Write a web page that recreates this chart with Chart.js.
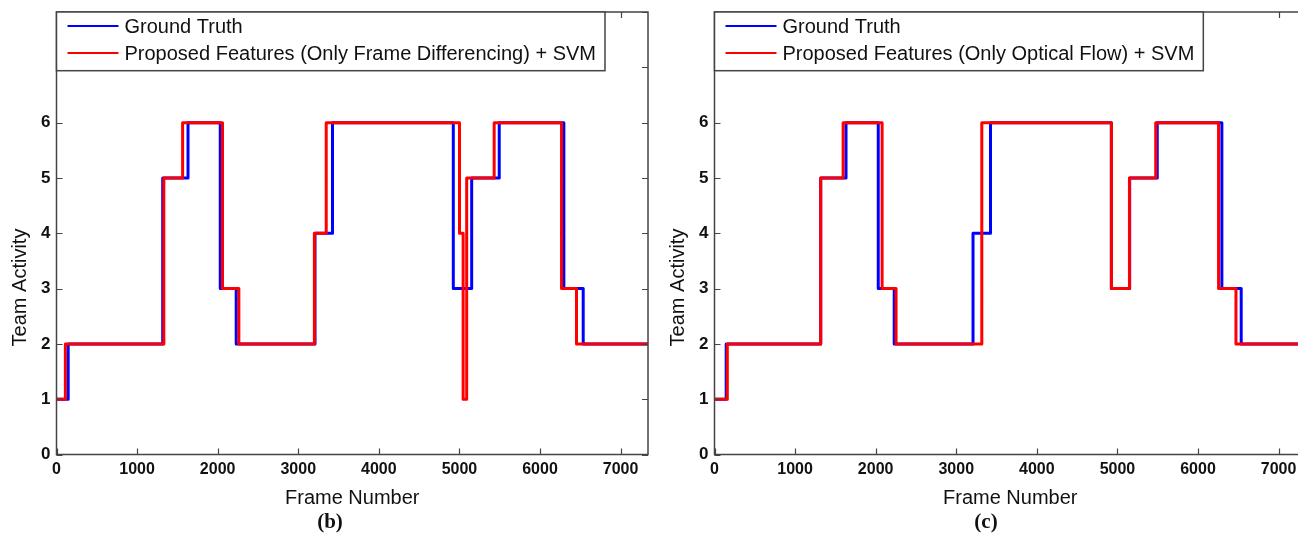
<!DOCTYPE html>
<html><head><meta charset="utf-8">
<script src="https://cdn.jsdelivr.net/npm/chart.js@4/dist/chart.umd.min.js"></script>
<style>
html,body{margin:0;padding:0;background:#fff;overflow:hidden;width:1298px;height:541px;}
#wrap{position:relative;width:1298px;height:541px;overflow:hidden;background:#fff;}
.c{position:absolute;top:0;}
.cap{position:absolute;font-family:"Liberation Serif","Times New Roman",serif;font-weight:bold;font-size:21px;color:#111;transform:translateX(-50%);top:509px;line-height:24px;}
</style></head><body>
<div id="wrap">
<canvas id="chartB" class="c" width="660" height="541" style="left:0"></canvas>
<canvas id="chartC" class="c" width="660" height="541" style="left:658px"></canvas>
<div class="cap" style="left:330px">(b)</div>
<div class="cap" style="left:986px">(c)</div>
</div>
<script>
// ---- data ----
const xTickValues = [0, 1000, 2000, 3000, 4000, 5000, 6000, 7000];
const xTickLabels = ['0', '1000', '2000', '3000', '4000', '5000', '6000', '7000'];
const yTickValues = [0, 1, 2, 3, 4, 5, 6, 7, 8];
const yTickLabels = ['0', '1', '2', '3', '4', '5', '6', '', ''];
const xMax = 7340;

const gtFrames = [0, 145, 1318, 1632, 2032, 2230, 3208, 3425, 4924, 5152, 5494, 6296, 6536, 7340];
const gtValues = [1, 2, 5, 6, 3, 2, 4, 6, 3, 5, 6, 3, 2, 2];

const fdFrames = [0, 110, 1332, 1565, 2060, 2263, 3200, 3347, 5001, 5046, 5090, 5431, 6267, 6453, 7340];
const fdValues = [1, 2, 5, 6, 3, 2, 4, 6, 4, 1, 5, 6, 3, 2, 2];

const ofFrames = [0, 159, 1318, 1596, 2080, 2253, 3317, 4926, 5149, 5475, 6255, 6471, 7340];
const ofValues = [1, 2, 5, 6, 3, 2, 6, 3, 5, 6, 3, 2, 2];

const gtLabel = 'Ground Truth';
const fdLabel = 'Proposed Features (Only Frame Differencing) + SVM';
const ofLabel = 'Proposed Features (Only Optical Flow) + SVM';
const yTitle = 'Team Activity';
const xTitle = 'Frame Number';

// ---- styling ----
const SANS = '"Liberation Sans", Arial, Helvetica, sans-serif';
const axisColor = '#444';
const textColor = '#111';

const matlabPlugin = {
  id: 'matlabAxes',
  afterDatasetsDraw(chart) {
    const {ctx, chartArea: ca, scales: {x, y}} = chart;
    ctx.save();
    ctx.strokeStyle = axisColor;
    ctx.lineWidth = 1.5;
    ctx.strokeRect(ca.left, ca.top, ca.right - ca.left, ca.bottom - ca.top);
    const tl = 6;
    ctx.beginPath();
    xTickValues.forEach(v => {
      const px = Math.round(x.getPixelForValue(v)) + 0.5;
      ctx.moveTo(px, ca.bottom); ctx.lineTo(px, ca.bottom - tl);
      ctx.moveTo(px, ca.top); ctx.lineTo(px, ca.top + tl);
    });
    yTickValues.forEach(v => {
      const py = Math.round(y.getPixelForValue(v)) + 0.5;
      ctx.moveTo(ca.left, py); ctx.lineTo(ca.left + tl, py);
      ctx.moveTo(ca.right, py); ctx.lineTo(ca.right - tl, py);
    });
    ctx.lineWidth = 1.2;
    ctx.stroke();

    // legend box (inside axes, top-left)
    const ds = chart.data.datasets;
    ctx.font = '20px ' + SANS;
    let maxW = 0;
    ds.forEach(d => { maxW = Math.max(maxW, ctx.measureText(d.label).width); });
    const bx = ca.left, by = ca.top, bw = 68 + maxW + 9, bh = 58.7;
    ctx.fillStyle = '#fff';
    ctx.fillRect(bx, by, bw, bh);
    ctx.lineWidth = 1.5;
    ctx.strokeStyle = axisColor;
    ctx.strokeRect(bx, by, bw, bh);
    const rows = [14, 41];
    ds.forEach((d, i) => {
      const ry = by + rows[i];
      ctx.beginPath();
      ctx.strokeStyle = d.borderColor;
      ctx.lineWidth = 2;
      ctx.moveTo(bx + 11, ry); ctx.lineTo(bx + 62, ry);
      ctx.stroke();
      ctx.fillStyle = textColor;
      ctx.textBaseline = 'middle';
      ctx.textAlign = 'left';
      ctx.fillText(d.label, bx + 68, ry + 1);
    });

    // y-axis title (rotated)
    ctx.save();
    ctx.translate(20, 287.5);
    ctx.rotate(-Math.PI / 2);
    ctx.font = '20px ' + SANS;
    ctx.fillStyle = textColor;
    ctx.textAlign = 'center';
    ctx.textBaseline = 'middle';
    ctx.fillText(yTitle, 0, 0);
    ctx.restore();
    ctx.restore();
  }
};

function toPoints(frames, values) {
  return frames.map((f, i) => ({x: f, y: values[i]}));
}

function makeChart(id, predFrames, predValues, predLabel) {
  return new Chart(document.getElementById(id), {
    type: 'line',
    data: {
      datasets: [
        {label: gtLabel, data: toPoints(gtFrames, gtValues), borderColor: '#0000ff', backgroundColor: '#0000ff',
         borderWidth: 3, stepped: true, pointRadius: 0, fill: false, order: 2, borderJoinStyle: 'round'},
        {label: predLabel, data: toPoints(predFrames, predValues), borderColor: '#ff0000', backgroundColor: '#ff0000',
         borderWidth: 3, stepped: true, pointRadius: 0, fill: false, order: 1, borderJoinStyle: 'round'}
      ]
    },
    options: {
      responsive: false,
      animation: false,
      devicePixelRatio: 1,
      layout: {padding: {left: 0, top: 12, right: 12, bottom: 0}},
      plugins: {legend: {display: false}, tooltip: {enabled: false}},
      scales: {
        x: {
          type: 'linear', min: 0, max: xMax,
          afterBuildTicks: s => { s.ticks = xTickValues.map(v => ({value: v})); },
          afterFit: s => { s.height = 86.5; s.paddingLeft = 0; s.paddingRight = 0; },
          grid: {display: false, drawTicks: false},
          border: {display: false},
          ticks: {
            padding: 5, color: textColor, maxRotation: 0, autoSkip: false,
            font: {family: SANS, weight: 'bold', size: 16},
            callback: (v, i) => xTickLabels[i]
          },
          title: {display: true, text: xTitle, color: textColor,
                  font: {family: SANS, size: 20}, padding: {top: 0, bottom: 31}}
        },
        y: {
          type: 'linear', min: 0, max: 8,
          afterBuildTicks: s => { s.ticks = yTickValues.map(v => ({value: v})); },
          afterFit: s => { s.width = 56.5; s.paddingTop = 0; s.paddingBottom = 0; },
          grid: {display: false, drawTicks: false},
          border: {display: false},
          ticks: {
            padding: 6, color: textColor, autoSkip: false,
            font: {family: SANS, weight: 'bold', size: 17},
            callback: (v, i) => yTickLabels[i]
          }
        }
      }
    },
    plugins: [matlabPlugin]
  });
}

makeChart('chartB', fdFrames, fdValues, fdLabel);
makeChart('chartC', ofFrames, ofValues, ofLabel);
</script>
</body></html>
